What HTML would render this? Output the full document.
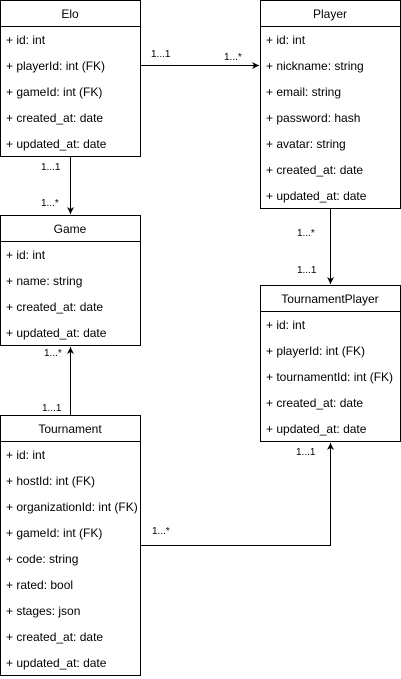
<!DOCTYPE html>
<html><head><style>body{margin:0;background:#fff}svg{display:block}text{font-family:"Liberation Sans",sans-serif;fill:#000}</style></head><body>
<svg width="401" height="679" xmlns="http://www.w3.org/2000/svg">
<defs><marker id="a" markerWidth="8" markerHeight="8" refX="7" refY="4" orient="auto" markerUnits="userSpaceOnUse"><path d="M0,0.5 L7,4 L0,7.5 L2,4 Z" fill="#000"/></marker></defs>
<g fill="#fff" stroke="#000" stroke-width="1">
<rect x="0.5" y="0.5" width="140" height="156"/><line x1="0.5" y1="26.5" x2="140.5" y2="26.5"/>
<rect x="260.5" y="0.5" width="140" height="208"/><line x1="260.5" y1="26.5" x2="400.5" y2="26.5"/>
<rect x="0.5" y="215.5" width="140" height="130"/><line x1="0.5" y1="241.5" x2="140.5" y2="241.5"/>
<rect x="260.5" y="285.5" width="140" height="156"/><line x1="260.5" y1="311.5" x2="400.5" y2="311.5"/>
<rect x="0.5" y="415.5" width="140" height="260"/><line x1="0.5" y1="441.5" x2="140.5" y2="441.5"/>
</g>
<g stroke="#000" fill="none">
<line x1="140.5" y1="65.5" x2="259" y2="65.5" marker-end="url(#a)"/>
<line x1="70.5" y1="156.5" x2="70.5" y2="214" marker-end="url(#a)"/>
<line x1="330.5" y1="208.5" x2="330.5" y2="284" marker-end="url(#a)"/>
<line x1="70.5" y1="415.5" x2="70.5" y2="347" marker-end="url(#a)"/>
<polyline points="140.5,545.5 330.5,545.5 330.5,443" marker-end="url(#a)"/>
</g>
<g font-size="12" text-anchor="middle">
<text x="70" y="18">Elo</text><text x="330" y="18">Player</text><text x="70" y="233">Game</text><text x="330" y="303">TournamentPlayer</text><text x="70" y="433">Tournament</text>
</g>
<g font-size="12">
<text x="6" y="44">+ id: int</text><text x="6" y="70">+ playerId: int (FK)</text><text x="6" y="96">+ gameId: int (FK)</text><text x="6" y="122">+ created_at: date</text><text x="6" y="148">+ updated_at: date</text>
<text x="266" y="44">+ id: int</text><text x="266" y="70">+ nickname: string</text><text x="266" y="96">+ email: string</text><text x="266" y="122">+ password: hash</text><text x="266" y="148">+ avatar: string</text><text x="266" y="174">+ created_at: date</text><text x="266" y="200">+ updated_at: date</text>
<text x="6" y="259">+ id: int</text><text x="6" y="285">+ name: string</text><text x="6" y="311">+ created_at: date</text><text x="6" y="337">+ updated_at: date</text>
<text x="266" y="329">+ id: int</text><text x="266" y="355">+ playerId: int (FK)</text><text x="266" y="381">+ tournamentId: int (FK)</text><text x="266" y="407">+ created_at: date</text><text x="266" y="433">+ updated_at: date</text>
<text x="6" y="459">+ id: int</text><text x="6" y="485">+ hostId: int (FK)</text><text x="6" y="511">+ organizationId: int (FK)</text><text x="6" y="537">+ gameId: int (FK)</text><text x="6" y="563">+ code: string</text><text x="6" y="589">+ rated: bool</text><text x="6" y="615">+ stages: json</text><text x="6" y="641">+ created_at: date</text><text x="6" y="667">+ updated_at: date</text>
</g>
<g font-size="10">
<text x="151" y="57">1...1</text><text x="224" y="60">1...*</text>
<text x="41" y="170">1...1</text><text x="41" y="206">1...*</text>
<text x="297" y="236">1...*</text><text x="297" y="273">1...1</text>
<text x="44" y="356">1...*</text><text x="42" y="411">1...1</text>
<text x="152" y="534">1...*</text><text x="296" y="455">1...1</text>
</g>
</svg>
</body></html>
